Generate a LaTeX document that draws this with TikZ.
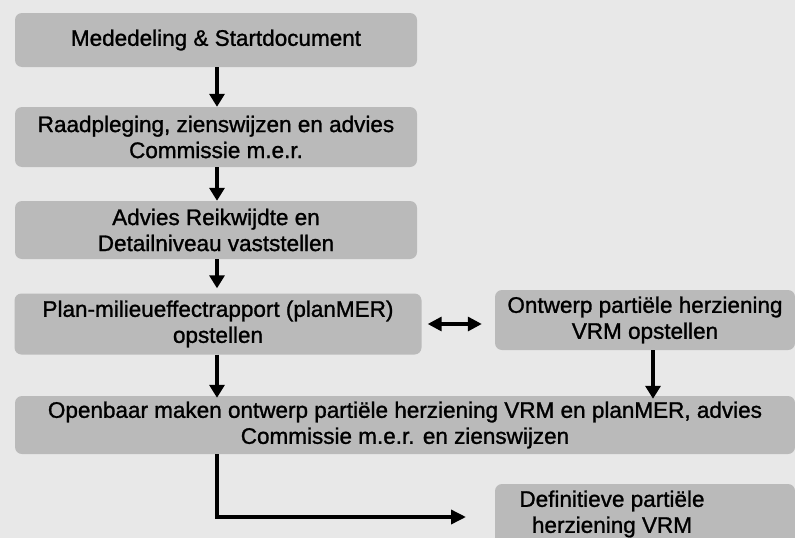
\documentclass[tikz,border=0pt]{standalone}
\usepackage{fontspec}
\setmainfont{Liberation Sans}
\newfontfamily\boxfam{Liberation Sans}[UprightFeatures={FakeBold=1.2}]
\usetikzlibrary{arrows.meta,calc}
\definecolor{bggray}{HTML}{E8E8E8}
\definecolor{boxgray}{HTML}{BABABA}
\tikzset{
  boxfont/.style={font=\boxfam\fontsize{22.5}{26}\selectfont},
  stepbox/.style={fill=boxgray, rounded corners=7pt, inner sep=0pt, align=center,
    boxfont, text=black},
  flow/.style={line width=4.5pt, -{Triangle[width=15pt,length=13pt]}},
  elbow/.style={line width=3.5pt, -{Triangle[width=14pt,length=15pt]}},
  both/.style={line width=3.2pt, {Triangle[width=14pt,length=14pt]}-{Triangle[width=14pt,length=14pt]}}
}
\begin{document}
\begin{tikzpicture}[x=1pt,y=-1pt]
\fill[bggray] (0,0) rectangle (795,538);
\useasboundingbox (0,0) rectangle (795,538);

\node[stepbox, minimum width=402pt, minimum height=54pt] (b1) at (216,40)
  {Mededeling \& Startdocument};
\node[stepbox, minimum width=402pt, minimum height=60pt] (b2) at (216,137)
  {Raadpleging, zienswijzen en advies\\Commissie m.e.r.};
\node[stepbox, minimum width=402pt, minimum height=58pt] (b3) at (216,230)
  {Advies Reikwijdte en\\Detailniveau vaststellen};
\node[stepbox, minimum width=407pt, minimum height=61pt] (b4) at (218,324)
  {Plan-milieueffectrapport (planMER)\\opstellen};
\node[stepbox, minimum width=300pt, minimum height=60pt] (b5) at (645,320)
  {Ontwerp partiële herziening\\VRM opstellen};
\node[stepbox, minimum width=780pt, minimum height=58pt] (b6) at (405,425)
  {Openbaar maken ontwerp partiële herziening VRM en planMER, advies\\Commissie m.e.r. en zienswijzen};
\node[stepbox, minimum width=300pt, minimum height=60pt,
  label={[xshift=-33pt, align=center, boxfont]center:Definitieve partiële\\herziening VRM}] (b7) at (645,514) {};

\draw[flow] ([xshift=1pt]b1.south) -- ([xshift=1pt]b2.north);
\draw[flow] ([xshift=1pt]b2.south) -- ([xshift=1pt]b3.north);
\draw[flow] ([xshift=1pt]b3.south) -- ([xshift=-1pt,yshift=5pt]b4.north);
\draw[flow] ([xshift=-1pt]b4.south) -- ([xshift=-1pt,yshift=-2pt]b4.south |- b6.north);
\draw[both] ([xshift=6pt]b4.east) -- ([xshift=-13pt]b5.west |- b4.east);
\draw[flow] ([xshift=8pt]b5.south) -- ([xshift=8pt,yshift=-3pt]b5.south |- b6.north);
\coordinate (corner) at (217,517);
\coordinate (tipend) at (466,517);
\draw[elbow] (b6.south -| corner) -- (corner) -- (tipend);
\end{tikzpicture}
\end{document}
